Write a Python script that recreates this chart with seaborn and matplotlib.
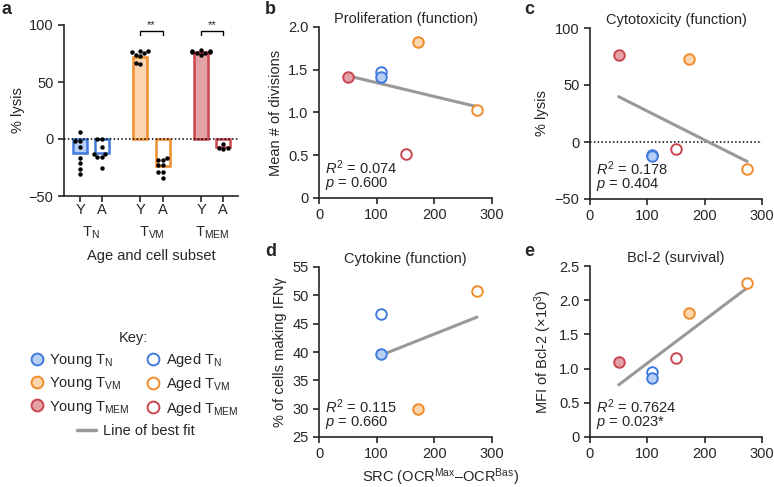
import matplotlib
matplotlib.use("Agg")
import matplotlib.pyplot as plt
from matplotlib.lines import Line2D
import numpy as np
import seaborn as sns

sns.set_style("ticks")
plt.rcParams['font.family'] = ['Liberation Sans', 'DejaVu Sans']
plt.rcParams['mathtext.fontset'] = 'custom'
plt.rcParams['mathtext.rm'] = 'Liberation Sans'
plt.rcParams['mathtext.it'] = 'Liberation Sans:italic'
plt.rcParams['axes.linewidth'] = 1.2
plt.rcParams['xtick.major.width'] = 1.2
plt.rcParams['ytick.major.width'] = 1.2
plt.rcParams['xtick.major.size'] = 4
plt.rcParams['ytick.major.size'] = 4

# ---------------- data ----------------
# panel a
bar_groups = ["Y_N", "A_N", "Y_VM", "A_VM", "Y_MEM", "A_MEM"]
bar_ticklabels = ["Y", "A", "Y", "A", "Y", "A"]
bar_pos = [0, 1, 2.73, 3.77, 5.5, 6.5]
bar_means = [-12, -12, 72, -24, 76, -7]
pts_Y_N = [6, -1.5, -1.5, -7, -17, -21, -26, -31]
pts_A_N = [0, 0, -7, -13, -13, -16, -16, -25]
pts_Y_VM = [77, 77, 76, 75, 74, 73, 67, 66]
pts_A_VM = [-17, -18, -18, -23, -23, -29, -29, -34.5]
pts_Y_MEM = [78, 77.5, 77, 76.5, 76, 75.5, 75, 74]
pts_A_MEM = [-9, -8, -4, -8]
group_labels = ["T$_{\\mathrm{N}}$", "T$_{\\mathrm{VM}}$", "T$_{\\mathrm{MEM}}$"]

# scatter panels: per cell group
cell_groups = ["Young T_MEM", "Aged T_N", "Young T_N", "Young T_VM", "Aged T_MEM", "Aged T_VM"]
src = [50, 108, 108, 172, 150, 274]
prolif = [1.42, 1.47, 1.42, 1.82, 0.51, 1.03]
cytotox = [76, -11, -12, 73, -6, -24]
cytokine = [None, 46.7, 39.6, 30.0, None, 50.8]
bcl2 = [1.10, 0.95, 0.86, 1.82, 1.15, 2.25]

stats_b = ("0.074", "0.600")
stats_c = ("0.178", "0.404")
stats_d = ("0.115", "0.660")
stats_e = ("0.7624", "0.023*")

# ---------------- styles ----------------
C = {
    "N": ("#4179dc", "#b7cff5"),
    "VM": ("#f08c2a", "#fdd6b0"),
    "MEM": ("#c9464f", "#e2a2a6"),
}

def style_of(g):
    age, sub = g.split(" ")[0], g.split("_")[1]
    edge, fill = C[sub]
    return edge, (fill if age == "Young" else "white")

fig = plt.figure(figsize=(7.74, 4.87), dpi=100)
FS = 10.5

# ---------------- panel a ----------------
axa = fig.add_axes([64/774, 1-196/487, 174/774, 171/487])
sns.barplot(x=bar_pos, y=bar_means, native_scale=True, width=0.64,
            errorbar=None, ax=axa, linewidth=1.6)
for p, g in zip(axa.patches, bar_groups):
    sub = g.split("_")[1]
    edge, fill = C[sub]
    p.set_edgecolor(edge)
    p.set_facecolor(fill if g.startswith("Y") else "white")
    p.set_linewidth(1.8)
all_pts = [pts_Y_N, pts_A_N, pts_Y_VM, pts_A_VM, pts_Y_MEM, pts_A_MEM]
xs, ys = [], []
for pos, pts in zip(bar_pos, all_pts):
    xs += [pos] * len(pts)
    ys += pts
sns.swarmplot(x=xs, y=ys, native_scale=True, color="black", size=3.2, ax=axa, zorder=5)
axa.axhline(0, ls=(0, (1, 1.5)), color="black", lw=1.1, zorder=4)
axa.set_xlim(-0.73, 7.18)
axa.set_ylim(-50, 100)
axa.set_yticks([-50, 0, 50, 100])
axa.set_xticks(bar_pos)
axa.set_xticklabels(bar_ticklabels)
axa.tick_params(labelsize=FS)
axa.tick_params(axis="x", pad=1)
axa.set_ylabel("% lysis", fontsize=FS, labelpad=3)
sns.despine(ax=axa)
for i, lab in enumerate(group_labels):
    xm = (bar_pos[2*i] + bar_pos[2*i+1]) / 2
    axa.text(xm, -0.215, lab, transform=axa.get_xaxis_transform(), ha="center", va="center", fontsize=FS)
axa.set_xlabel("Age and cell subset", fontsize=FS)
axa.xaxis.set_label_coords(0.5, -0.31)
# significance brackets
for i0, i1 in [(2, 3), (4, 5)]:
    x0, x1 = bar_pos[i0], bar_pos[i1]
    axa.plot([x0, x0, x1, x1], [91, 95, 95, 91], color="black", lw=1.0, clip_on=False)
    axa.text((x0+x1)/2, 95.5, "**", ha="center", va="bottom", fontsize=8)

# ---------------- scatter panels ----------------
def scatter_panel(rect, yvals, ylim, yticks, yticklabels, ylabel, title, stats, zero_line=False):
    ax = fig.add_axes(rect)
    xv = [x for x, y in zip(src, yvals) if y is not None]
    yv = [y for y in yvals if y is not None]
    sns.regplot(x=xv, y=yv, ci=None, scatter=False, truncate=True, ax=ax,
                line_kws=dict(color="#999999", lw=2.2, zorder=2))
    if zero_line:
        ax.axhline(0, ls=(0, (1, 1.5)), color="black", lw=1.1, zorder=1)
    for g, x, y in zip(cell_groups, src, yvals):
        if y is None:
            continue
        edge, face = style_of(g)
        sns.scatterplot(x=[x], y=[y], ax=ax, s=58, color=face, edgecolor=edge,
                        linewidth=1.4, zorder=3 if g.startswith("Aged") else 4)
    ax.set_xlim(0, 300)
    ax.set_xticks([0, 100, 200, 300])
    ax.set_ylim(*ylim)
    ax.set_yticks(yticks)
    ax.set_yticklabels(yticklabels)
    ax.tick_params(labelsize=FS)
    ax.set_ylabel(ylabel, fontsize=FS, labelpad=4)
    ax.set_title(title, fontsize=FS, pad=3)
    sns.despine(ax=ax)
    ax.text(0.035, 0.18, "$R^2$ = " + stats[0], transform=ax.transAxes, fontsize=FS, va="center")
    ax.text(0.035, 0.085, "$p$ = " + stats[1], transform=ax.transAxes, fontsize=FS, va="center")
    return ax

scatter_panel([319/774, 1-198/487, 173/774, 171/487], prolif, (0, 2), [0, 0.5, 1, 1.5, 2],
              ["0", "0.5", "1.0", "1.5", "2.0"], "Mean # of divisions", "Proliferation (function)", stats_b)
scatter_panel([590/774, 1-199/487, 172/774, 171/487], cytotox, (-50, 100), [-50, 0, 50, 100],
              ["\u221250", "0", "50", "100"], "% lysis", "Cytotoxicity (function)", stats_c, zero_line=True)
scatter_panel([319/774, 1-437/487, 173/774, 170/487], cytokine, (25, 55), [25, 30, 35, 40, 45, 50, 55],
              ["25", "30", "35", "40", "45", "50", "55"], "% of cells making IFN\u03b3", "Cytokine (function)", stats_d)
scatter_panel([590/774, 1-437/487, 172/774, 171/487], bcl2, (0, 2.5), [0, 0.5, 1, 1.5, 2, 2.5],
              ["0", "0.5", "1.0", "1.5", "2.0", "2.5"], "MFI of Bcl-2 (\u00d710$^3$)", "Bcl-2 (survival)", stats_e)

fig.text(440/774, 1-477/487, "SRC (OCR$^{\\mathrm{Max}}$\u2013OCR$^{\\mathrm{Bas}}$)", ha="center", va="center", fontsize=FS)

# panel letters
for lab, x, y in [("a", 2, 9), ("b", 265, 9), ("c", 524, 9), ("d", 265, 252), ("e", 524, 252)]:
    fig.text(x/774, 1-y/487, lab, fontsize=13, fontweight="bold", ha="left", va="center")

# ---------------- legend ----------------
leg_order = ["Young T_N", "Young T_VM", "Young T_MEM", "Aged T_N", "Aged T_VM", "Aged T_MEM"]
handles, labels = [], []
for g in leg_order:
    edge, face = style_of(g)
    handles.append(Line2D([], [], ls="", marker="o", markersize=8.5, markerfacecolor=face,
                          markeredgecolor=edge, markeredgewidth=1.4))
    age, sub = g.split(" ")[0], g.split("_")[1]
    labels.append(age + " T$_{\\mathrm{" + sub + "}}$")
leg1 = fig.legend(handles, labels, ncol=2, loc="upper center", bbox_to_anchor=(133/774, 1-318/487),
                  frameon=False, title="Key:", fontsize=FS, title_fontsize=FS,
                  handletextpad=0.25, columnspacing=1.0, labelspacing=0.42, handlelength=1.2)
fig.legend([Line2D([], [], color="#999999", lw=2.5)], ["Line of best fit"], loc="center",
           bbox_to_anchor=(136/774, 1-431/487), frameon=False, fontsize=FS, handlelength=1.3,
           handletextpad=0.5)

fig.savefig("out.png", dpi=100)
